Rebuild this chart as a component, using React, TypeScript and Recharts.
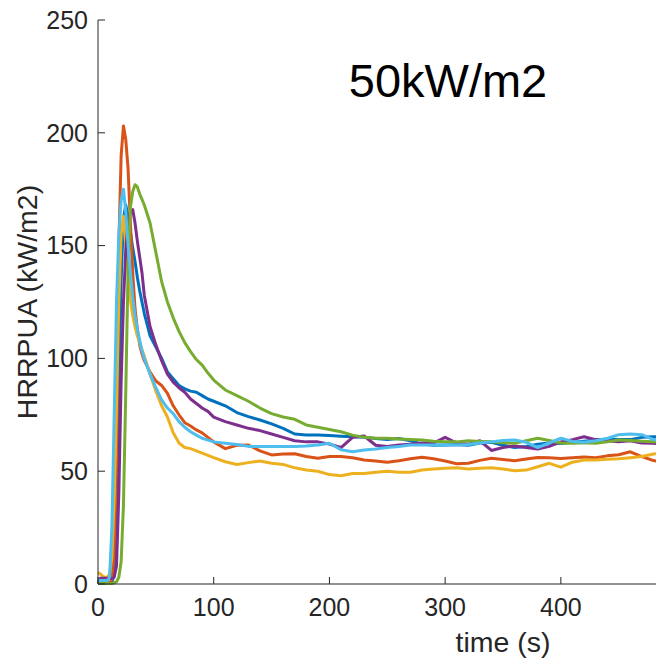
import React from 'react';
import { LineChart, Line, XAxis, YAxis } from 'recharts';

// HRRPUA curves at 50 kW/m2, six repeat tests (MATLAB default colour order).
// Values; time grid is denser around the peak.

const time = [
  0, 2, 4, 6, 8, 10, 12, 14, 16, 18, 20, 22, 24, 26, 28, 30, 32, 34, 36, 38, 40,
  45, 50, 55, 60, 65, 70, 75, 80, 85, 90, 95, 100,
  110, 120, 130, 140, 150, 160, 170, 180, 190, 200,
  210, 220, 230, 240, 250, 260, 270, 280, 290, 300,
  310, 320, 330, 340, 350, 360, 370, 380, 390, 400,
  410, 420, 430, 440, 450, 460, 470, 480, 490,
];

const test1 = [
  0.5, 0.5, 0.5, 0.5, 0.5, 0.5, 0.8, 4, 30, 80, 135, 162, 168, 163, 156, 149, 143, 136, 130, 125, 120,
  110, 105, 100, 94, 91, 88, 86.5, 85.5, 85, 83.5, 82, 81,
  79, 76, 74.2, 72.7, 71, 69, 66.5, 66, 66, 65.8,
  65.5, 65.3, 65, 64.5, 64, 64.5, 63.5, 62, 61.5, 61.6,
  61.8, 61.5, 62.5, 62.8, 61.5, 60.5, 61, 62, 62.5, 62.3,
  62.8, 63.3, 63.8, 64.3, 64, 64, 65, 65.3, 65,
];

const test2 = [
  0.3, 0.3, 0.3, 0.3, 0.3, 0.3, 2, 15, 55, 150, 190, 203, 197, 184, 160, 138, 122, 113, 106, 102, 99,
  94, 90, 88, 84.5, 79, 75, 71.5, 70, 68.3, 67, 65, 63,
  60, 61.5, 61.6, 59, 57.2, 57.6, 57.7, 56.5, 55.7, 56.5,
  56.5, 56, 55, 54.5, 54, 54.6, 55.5, 56.2, 55.5, 54.5,
  53.3, 53.5, 54.8, 55.7, 55.2, 54.6, 55.4, 56.1, 56, 55.6,
  56, 56.3, 56, 56.8, 57.3, 58.6, 56.5, 54.7, 54,
];

const test3 = [
  5, 4.5, 3.5, 3, 3, 4.5, 12, 38, 80, 125, 155, 163, 150, 137, 126, 119, 114, 110, 107, 104, 101,
  93, 85.5, 79, 74, 67, 62.5, 60.5, 60, 59, 58, 57, 56,
  54.2, 53, 53.8, 54.5, 53.5, 53, 51.5, 50.5, 50, 48.5,
  48, 49, 49, 49.5, 50, 49.5, 49.5, 50.5, 51, 51.3,
  51.5, 51, 51.3, 51.5, 51, 50.2, 50.5, 52, 53.5, 51.8,
  54, 55, 55, 55.3, 55.5, 56, 56.5, 57.6, 58,
];

const test4 = [
  0.5, 2.5, 2.5, 2.5, 2.5, 2.5, 2.5, 3, 8, 40, 90, 125, 148, 160, 165, 166, 160, 152, 145, 138, 128,
  114, 106, 99, 93, 89.5, 87, 85, 82, 80, 78, 76.5, 74,
  72, 70.5, 69, 68, 66.5, 65, 63.5, 63, 63, 62,
  60.5, 65, 65.6, 61.5, 61, 61.6, 62, 62.5, 62.5, 65,
  62.5, 62, 63.5, 59.2, 60.5, 61.2, 60.5, 59.8, 61, 63,
  64, 65.3, 64, 63.5, 63, 63.5, 62.5, 62.4, 62,
];

const test5 = [
  0.2, 0.2, 0.2, 0.2, 0.2, 0.2, 0.2, 0.5, 1, 3, 10, 35, 85, 140, 167, 174, 177, 176, 173, 170.5, 168,
  160, 147, 134, 125, 118, 112, 107, 103, 99.5, 97, 93.5, 90.4,
  86, 83.5, 81, 78, 75.5, 74, 73, 70.5, 69.5, 68.5,
  67.5, 66, 65, 64.6, 64.6, 64.3, 64, 63.8, 63.3, 63.1,
  63, 63.5, 63.2, 63, 62.6, 62.4, 63.5, 64.6, 63.6, 62.5,
  62.4, 62.6, 62.4, 63, 63.8, 63.6, 63.3, 63.1, 63,
];

const test6 = [
  1.5, 1.5, 1.5, 1.5, 1.5, 3, 25, 75, 125, 155, 170, 175, 165, 150, 138, 127, 119, 113, 108, 103.5, 100,
  93, 87, 81.6, 78, 75.5, 72, 69.5, 67.5, 66, 64.6, 63.8, 63,
  62.4, 61.8, 61, 60.9, 60.9, 60.9, 61, 61.2, 61.6, 62.4,
  59.5, 58.6, 59.4, 59.8, 60.5, 61, 61.6, 61.6, 61.6, 61.6,
  61.6, 61.8, 62.5, 63, 63.6, 63.8, 62.8, 60.5, 62.5, 64.6,
  63.2, 62.8, 63.5, 64.5, 66.2, 66.5, 66.2, 64, 63.5,
];

const xTicks = [0, 100, 200, 300, 400, 500, 600, 700];
const yTicks = [0, 50, 100, 150, 200, 250];

const series = [
  { key: 's1', values: test1, color: '#0072BD' },
  { key: 's2', values: test2, color: '#D95319' },
  { key: 's3', values: test3, color: '#EDB120' },
  { key: 's4', values: test4, color: '#7E2F8E' },
  { key: 's5', values: test5, color: '#77AC30' },
  { key: 's6', values: test6, color: '#4DBEEE' },
];

const data = time.map((t, i) => {
  const row: Record<string, number> = { t };
  series.forEach((s) => {
    row[s.key] = s.values[i];
  });
  return row;
});

const FONT = '"Liberation Sans", Arial, Helvetica, sans-serif';
const AXIS = '#262626';
const tickStyle = { fontSize: 25, fill: AXIS, fontFamily: FONT };

export default function App() {
  return (
    <div
      style={{
        position: 'fixed',
        left: 0,
        top: 0,
        width: 656,
        height: 661,
        overflow: 'hidden',
        background: '#fff',
        fontFamily: FONT,
      }}
    >
      <LineChart
        width={960}
        height={661}
        data={data}
        margin={{ top: 20, right: 52, bottom: 0, left: 0 }}
      >
        <XAxis
          dataKey="t"
          type="number"
          domain={[0, 700]}
          ticks={xTicks}
          interval={0}
          height={77}
          tickSize={-7}
          tickMargin={21}
          stroke={AXIS}
          tick={tickStyle}
          label={{
            value: 'time (s)',
            position: 'insideBottom',
            offset: 9,
            style: { fontSize: 28.5, fill: AXIS, fontFamily: FONT },
          }}
        />
        <XAxis
          xAxisId="top"
          orientation="top"
          dataKey="t"
          type="number"
          domain={[0, 700]}
          ticks={xTicks}
          interval={0}
          height={0}
          tickSize={-7}
          tick={false}
          stroke={AXIS}
        />
        <YAxis
          type="number"
          domain={[0, 250]}
          ticks={yTicks}
          interval={0}
          width={98}
          tickSize={-7}
          tickMargin={17}
          stroke={AXIS}
          tick={tickStyle}
        />
        {series.map((s) => (
          <Line
            key={s.key}
            dataKey={s.key}
            type="linear"
            stroke={s.color}
            strokeWidth={3}
            dot={false}
            strokeLinejoin="round"
            isAnimationActive={false}
          />
        ))}
      </LineChart>
      <div
        style={{
          position: 'absolute',
          left: 27,
          top: 302,
          transform: 'translate(-50%, -50%) rotate(-90deg)',
          whiteSpace: 'nowrap',
          fontSize: 28.5,
          lineHeight: 1,
          color: AXIS,
        }}
      >
        HRRPUA (kW/m2)
      </div>
      <div
        style={{
          position: 'absolute',
          left: 448,
          top: 57,
          transform: 'translateX(-50%)',
          whiteSpace: 'nowrap',
          fontSize: 47,
          lineHeight: 1,
          color: '#000',
        }}
      >
        50kW/m2
      </div>
    </div>
  );
}
